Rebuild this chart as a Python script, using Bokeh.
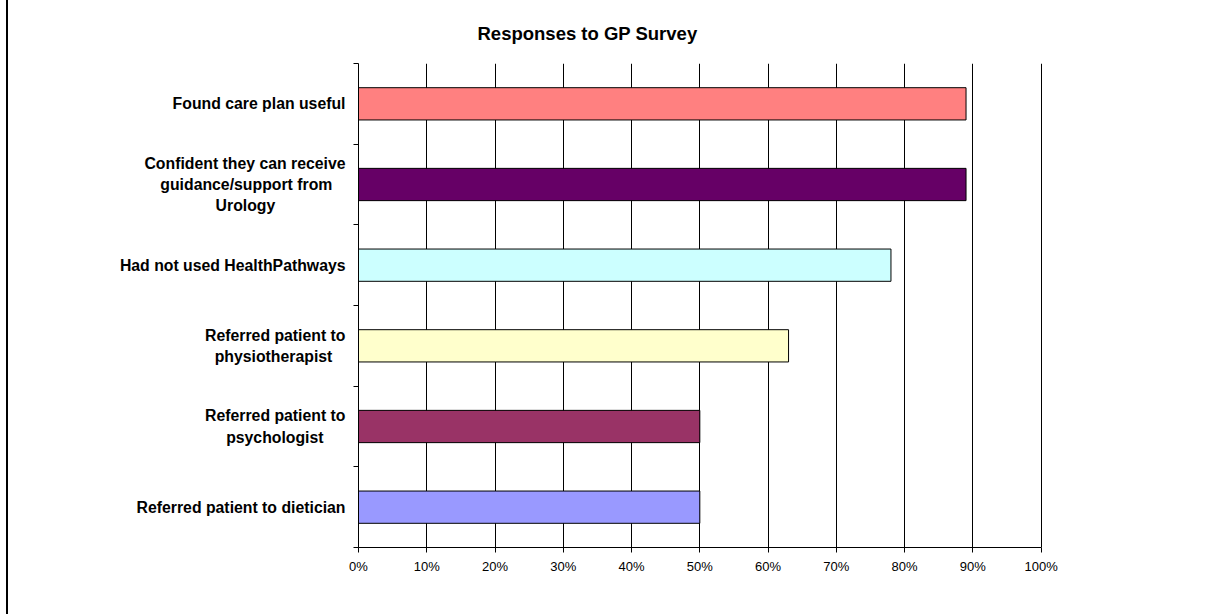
from bokeh.plotting import figure
from bokeh.models import (Range1d, FixedTicker, NumeralTickFormatter, LinearAxis,
                          ColumnDataSource, Spacer)
from bokeh.layouts import row
from bokeh.embed import file_html
from bokeh.resources import INLINE

# ---- data ----
title_text = "Responses to GP Survey"
categories = [
    "Found care plan useful",
    "Confident they can receive\nguidance/support from\nUrology",
    "Had not used HealthPathways",
    "Referred patient to\nphysiotherapist",
    "Referred patient to\npsychologist",
    "Referred patient to dietician",
]
values = [0.89, 0.89, 0.78, 0.63, 0.50, 0.50]
colors = ["#FF8080", "#660066", "#CCFFFF", "#FFFFCC", "#993366", "#9999FF"]
x_ticks = [0.0, 0.1, 0.2, 0.3, 0.4, 0.5, 0.6, 0.7, 0.8, 0.9, 1.0]

# ---- centre the lines of multi-line labels (axis labels are right aligned) ----
# Arial / Liberation Sans Bold advance widths (per 1000 em)
BOLD_W = {
    " ": 278, "/": 278,
    "a": 556, "b": 611, "c": 556, "d": 611, "e": 556, "f": 333, "g": 611, "h": 611,
    "i": 278, "j": 278, "k": 556, "l": 278, "m": 889, "n": 611, "o": 611, "p": 611,
    "q": 611, "r": 389, "s": 556, "t": 333, "u": 611, "v": 556, "w": 778, "x": 556,
    "y": 556, "z": 500,
    "C": 722, "F": 611, "G": 778, "H": 722, "P": 667, "R": 722, "U": 722,
}
NBSP = "\u00a0"


def line_w(s):
    return sum(BOLD_W.get(ch, 600) for ch in s)


def centred(txt):
    lines = txt.split("\n")
    wmax = max(line_w(s) for s in lines)
    out = []
    for s in lines:
        pad = int(round((wmax - line_w(s)) / 2.0 / BOLD_W[" "]))
        out.append(s + NBSP * pad)
    return "\n".join(out)


n = len(categories)
ypos = [n - i - 0.5 for i in range(n)]          # category slot centres, first at top

src = ColumnDataSource(dict(cat=categories, y=ypos, val=values, color=colors))

p = figure(
    width=1197, height=614,
    x_range=Range1d(0, 1.002),
    y_range=Range1d(0, n),
    output_backend="svg", toolbar_location=None,
    min_border_left=350, min_border_right=163,
    min_border_top=63, min_border_bottom=67,
)
p.outline_line_color = None
p.background_fill_color = "white"
p.border_fill_color = "white"

# title
p.title.text = title_text
p.title.align = "left"
p.title.offset = 119
p.title.standoff = 39
p.title.text_font = "Liberation Sans"
p.title.text_font_style = "bold"
p.title.text_font_size = "18.5px"
p.title.text_color = "black"

p.hbar(y="y", left=0, right="val", height=0.4, source=src,
       fill_color="color", line_color="black", line_width=1)

# y axis: ticks at category boundaries, no numeric labels
p.yaxis.ticker = FixedTicker(ticks=list(range(n + 1)))
p.yaxis.major_label_overrides = {i: "" for i in range(n + 1)}
p.yaxis.major_label_standoff = 0
p.yaxis.major_tick_in = 0
p.yaxis.major_tick_out = 5
p.yaxis.minor_tick_in = 0
p.yaxis.minor_tick_out = 0
p.yaxis.axis_line_color = "black"
p.yaxis.major_tick_line_color = "black"

# category labels as a second left axis (labels at slot centres)
cat_axis = LinearAxis(
    ticker=FixedTicker(ticks=ypos),
    major_label_overrides={y: centred(c) for y, c in zip(ypos, categories)},
    major_tick_in=0, major_tick_out=0, minor_tick_in=0, minor_tick_out=0,
    axis_line_color=None, major_tick_line_color=None,
    major_label_standoff=8,
    major_label_text_font="Liberation Sans",
    major_label_text_font_style="bold",
    major_label_text_font_size="15.8px",
    major_label_text_color="black",
    major_label_text_line_height=1.25,
)
p.add_layout(cat_axis, "left")

# x axis
p.xaxis.ticker = FixedTicker(ticks=x_ticks)
p.xaxis.formatter = NumeralTickFormatter(format="0%")
p.xaxis.bounds = (0, 1)
p.xaxis.major_tick_in = 0
p.xaxis.major_tick_out = 5
p.xaxis.minor_tick_in = 0
p.xaxis.minor_tick_out = 0
p.xaxis.axis_line_color = "black"
p.xaxis.major_tick_line_color = "black"
p.xaxis.major_label_text_font = "Liberation Sans"
p.xaxis.major_label_text_font_size = "13px"
p.xaxis.major_label_text_color = "black"
p.xaxis.major_label_standoff = 6

p.xgrid.ticker = FixedTicker(ticks=x_ticks)
p.xgrid.grid_line_color = "black"
p.xgrid.grid_line_width = 1
p.ygrid.grid_line_color = None

layout = row(Spacer(width=6, height=614),
             Spacer(width=2, height=614, styles={"background-color": "black"}),
             p, spacing=0)

open("out.html", "w").write(file_html(layout, INLINE))
